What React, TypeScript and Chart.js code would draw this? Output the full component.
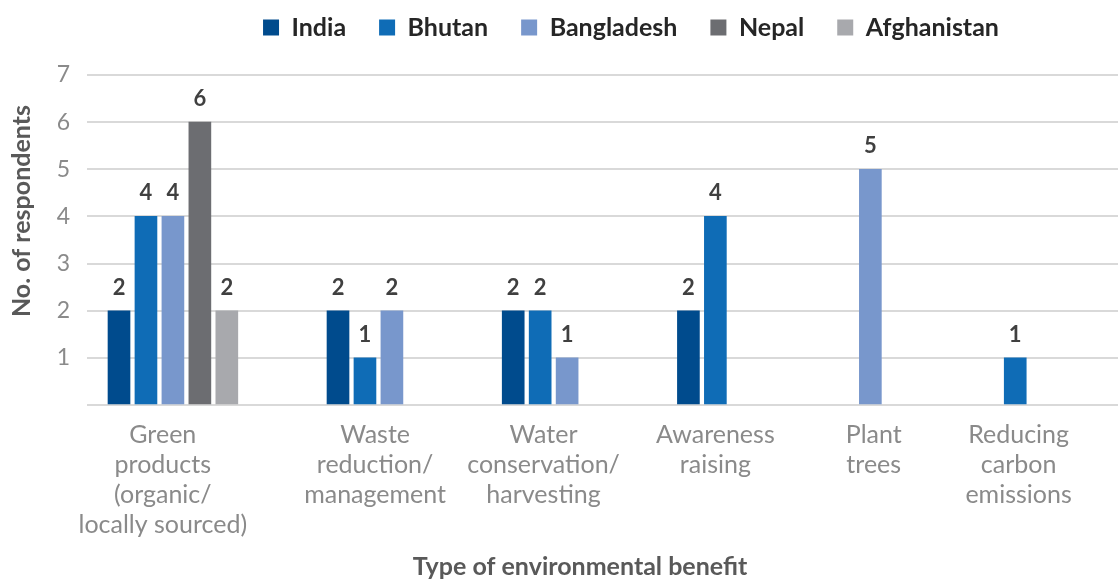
import { useEffect, useRef } from "react";
import { Chart, registerables } from "chart.js";

Chart.register(...registerables);

// ---- data -------------------------------------------------------------
const categories: string[][] = [
  ["Green", "products", "(organic/", "locally sourced)"],
  ["Waste", "reduction/", "management"],
  ["Water", "conservation/", "harvesting"],
  ["Awareness", "raising"],
  ["Plant", "trees"],
  ["Reducing", "carbon", "emissions"],
];

const seriesNames = ["India", "Bhutan", "Bangladesh", "Nepal", "Afghanistan"];
const seriesColors = ["#004b8d", "#0f6cb6", "#7897cc", "#6c6d71", "#a8a9ad"];

const india: (number | null)[] = [2, 2, 2, 2, null, null];
const bhutan: (number | null)[] = [4, 1, 2, 4, null, 1];
const bangladesh: (number | null)[] = [4, 2, 1, null, 5, null];
const nepal: (number | null)[] = [6, null, null, null, null, null];
const afghanistan: (number | null)[] = [2, null, null, null, null, null];

const yTicks = [1, 2, 3, 4, 5, 6, 7];
const xTitle = "Type of environmental benefit";
const yTitle = "No. of respondents";

// ---- layout -------------------------------------------------------------
// The x axis is a run of narrow slots. Only the countries that answered for a
// category get a bar, packed side by side from the group's first slot; the
// category caption sits on its own slot under the group.
const SLOT_COUNT = 306;
const BAR_STEP = 8;
const groupStartSlot = [9, 74, 126, 178, 232, 275];
const captionSlot = [22, 85, 135, 186, 233, 276];

const FONT = "Lato, 'Noto Sans', sans-serif";
const TICK_COLOR = "#8a8a8a";
const TITLE_COLOR = "#595959";
const VALUE_COLOR = "#404040";
const GRID_COLOR = "#d9d9d9";

function buildSlots() {
  const series = [india, bhutan, bangladesh, nepal, afghanistan];
  const data: (number | null)[][] = series.map(() =>
    new Array(SLOT_COUNT).fill(null)
  );
  categories.forEach((_, c) => {
    let k = 0;
    series.forEach((values, s) => {
      const v = values[c];
      if (v == null) return;
      data[s][groupStartSlot[c] + k * BAR_STEP] = v;
      k += 1;
    });
  });
  const labels: (string | string[])[] = new Array(SLOT_COUNT).fill("");
  captionSlot.forEach((slot, c) => {
    labels[slot] = categories[c];
  });
  return { labels, data };
}

// value printed above every bar
const valueLabels = {
  id: "valueLabels",
  afterDatasetsDraw(chart: any) {
    const { ctx } = chart;
    ctx.save();
    ctx.font = `bold 22px ${FONT}`;
    ctx.fillStyle = VALUE_COLOR;
    ctx.textAlign = "center";
    ctx.textBaseline = "alphabetic";
    chart.data.datasets.forEach((ds: any, i: number) => {
      const meta = chart.getDatasetMeta(i);
      meta.data.forEach((bar: any, j: number) => {
        const v = ds.data[j];
        if (v == null) return;
        ctx.fillText(String(v), bar.x, bar.y - 16);
      });
    });
    ctx.restore();
  },
};

// axis titles
const axisTitles = {
  id: "axisTitles",
  afterDraw(chart: any) {
    const { ctx } = chart;
    ctx.save();
    ctx.font = `bold 25px ${FONT}`;
    ctx.fillStyle = TITLE_COLOR;
    ctx.textAlign = "center";
    ctx.textBaseline = "middle";
    ctx.fillText(xTitle, 580, 567);
    ctx.translate(22, 211);
    ctx.rotate(-Math.PI / 2);
    ctx.fillText(yTitle, 0, 0);
    ctx.restore();
  },
};

// nudges the legend row into place after Chart.js has laid out the boxes
const legendPlacement = {
  id: "legendPlacement",
  afterLayout(chart: any) {
    const lg = chart.legend;
    if (!lg) return;
    const dx = 72;
    const dy = -25;
    lg.left += dx;
    lg.right += dx;
    lg.top += dy;
    lg.bottom += dy;
  },
};

export default function App() {
  const canvasRef = useRef<HTMLCanvasElement>(null);

  useEffect(() => {
    const canvas = canvasRef.current;
    if (!canvas) return;
    const { labels, data } = buildSlots();

    const chart = new Chart(canvas, {
      type: "bar",
      data: {
        labels,
        datasets: seriesNames.map((name, i) => ({
          label: name,
          data: data[i],
          backgroundColor: seriesColors[i],
          borderWidth: 0,
          barThickness: 22,
        })),
      },
      options: {
        responsive: false,
        animation: false,
        devicePixelRatio: 1,
        layout: { padding: 0 },
        plugins: {
          legend: {
            position: "top",
            align: "center",
            labels: {
              boxWidth: 16,
              boxHeight: 16,
              padding: 33,
              color: "#262626",
              font: { family: FONT, size: 25, weight: "bold" },
            },
          },
          tooltip: { enabled: false },
        },
        scales: {
          x: {
            stacked: true,
            offset: true,
            grid: { display: false, drawTicks: false },
            border: { display: false },
            ticks: {
              autoSkip: false,
              maxRotation: 0,
              minRotation: 0,
              padding: 15,
              color: TICK_COLOR,
              font: { family: FONT, size: 25, lineHeight: 1.2 },
            },
            afterFit(scale: any) {
              scale.height = 176;
              scale.paddingLeft = 0;
              scale.paddingRight = 0;
            },
          },
          y: {
            min: 0,
            max: 7,
            afterBuildTicks(axis: any) {
              axis.ticks = [0, ...yTicks].map((v) => ({ value: v }));
            },
            grid: { color: GRID_COLOR, lineWidth: 2, drawTicks: false },
            border: { display: false },
            ticks: {
              padding: 17,
              color: TICK_COLOR,
              font: { family: FONT, size: 23 },
              callback: (v: any) => (v === 0 ? "" : String(v)),
            },
            afterFit(scale: any) {
              scale.width = 87;
              scale.paddingTop = 75;
            },
          },
        },
      },
      plugins: [valueLabels, axisTitles, legendPlacement],
    });

    return () => chart.destroy();
  }, []);

  return (
    <div
      style={{
        position: "fixed",
        left: 0,
        top: 0,
        width: 1118,
        height: 581,
        background: "#ffffff",
      }}
    >
      <canvas
        ref={canvasRef}
        width={1118}
        height={581}
        style={{ display: "block" }}
      />
    </div>
  );
}
